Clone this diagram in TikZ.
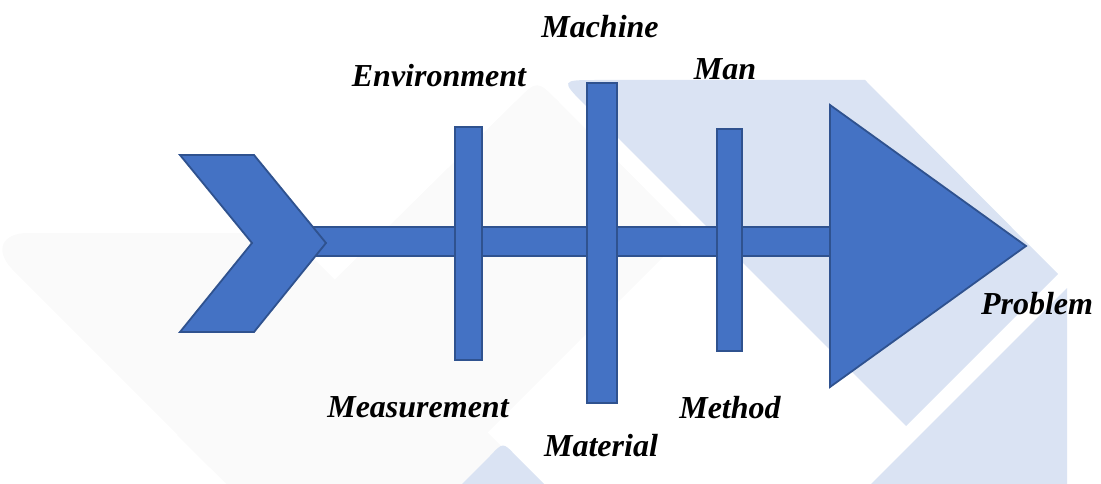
\documentclass[tikz,border=0pt]{standalone}
\usepackage{fontspec}
\setmainfont{Liberation Serif}
\definecolor{fishblue}{HTML}{4472C4}
\definecolor{fishedge}{HTML}{2F528F}
\definecolor{wmlav}{HTML}{DAE3F3}
\definecolor{wmgray}{HTML}{FAFAFA}
\begin{document}
\begin{tikzpicture}[x=1pt,y=-1pt,
  lbl/.style={font=\fontsize{32}{36}\selectfont\bfseries\itshape, anchor=base, inner sep=0pt},
  fishbody/.style={fill=fishblue, draw=fishedge, line width=1.8pt, line join=miter},
  bonebar/.style={fishbody, rectangle, inner sep=0pt}]
\useasboundingbox (0,0) rectangle (1101,484);
% watermark
\begin{scope}
\clip (0,0) rectangle (1101,484);
\fill[wmgray] (308,565) -- (12,269) .. controls (-6,250) and (2,233) .. (28,233) -- (288,233) -- (620,565) -- cycle;
\fill[wmgray] (177,435) -- (516,101) .. controls (537,80) .. (558,101) -- (673,217) .. controls (688,232) .. (674,246) -- (355,565) -- (308,565) -- cycle;
\fill[wmlav] (406,540) -- (490,456) .. controls (503,442) .. (516,456) -- (600,540) -- cycle;
\fill[wmlav] (1058,274) -- (906,426) -- (587,107) .. controls (560,80) .. (598,80) -- (865,80) -- cycle;
\fill[wmlav] (1067,288) -- (1067,565) -- (790,565) -- cycle;
\end{scope}
% spine
\node[bonebar, minimum width=530pt, minimum height=29pt] (spine) at (565,241.5) {};
% bones
\node[bonebar, minimum width=27pt, minimum height=233pt] (bone1) at (468.5,243.5) {};
\node[bonebar, minimum width=30pt, minimum height=320pt] (bone2) at (602,243) {};
\node[bonebar, minimum width=25pt, minimum height=222pt] (bone3) at (729.5,240) {};
% tail and head
\draw[fishbody] (180,155) -- (254,155) -- (326,243) -- (254,332) -- (180,332) -- (252,243) -- cycle;
\draw[fishbody] (830,105) -- (1026,246) -- (830,387) -- cycle;
% labels
\node[lbl] (machine) at (600,38) {Machine};
\node[lbl] (environment) at (439,87) {Environment};
\node[lbl] (man) at (725,80) {Man};
\node[lbl] (measurement) at (418,417) {Measurement};
\node[lbl] (material) at (601,456) {Material};
\node[lbl] (method) at (730,418) {Method};
\node[lbl] (problem) at (1037,314) {Problem};
\end{tikzpicture}
\end{document}
